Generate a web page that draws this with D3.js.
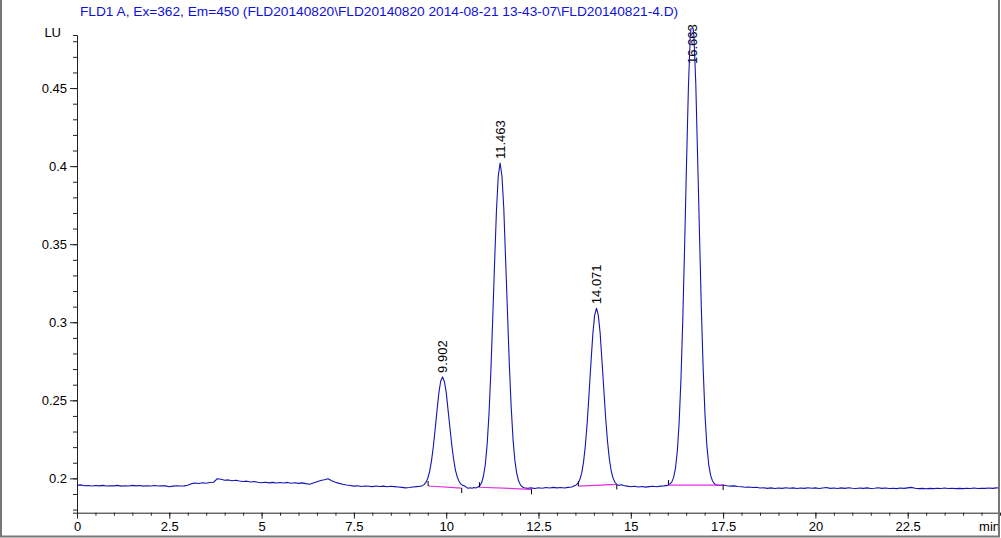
<!DOCTYPE html>
<html>
<head>
<meta charset="utf-8">
<script src="https://cdn.jsdelivr.net/npm/d3@7"></script>
<style>
  html, body { margin: 0; padding: 0; background: #fff; }
  svg { display: block; }
  text { font-family: "Liberation Sans", Arial, sans-serif; }
</style>
</head>
<body>
<svg id="chart" width="1001" height="538"></svg>
<script>
// ---------------- DATA ----------------
const titleText = "FLD1 A, Ex=362, Em=450 (FLD20140820\\FLD20140820 2014-08-21 13-43-07\\FLD20140821-4.D)";
const yUnit = "LU";
const xUnit = "min";

// x ticks (minutes)
const xMajorTicks = [0, 2.5, 5, 7.5, 10, 12.5, 15, 17.5, 20, 22.5];
const xTickLabels = ["0", "2.5", "5", "7.5", "10", "12.5", "15", "17.5", "20", "22.5"];
// y ticks (LU)
const yMajorTicks = [0.2, 0.25, 0.3, 0.35, 0.4, 0.45];
const yTickLabels = ["0.2", "0.25", "0.3", "0.35", "0.4", "0.45"];

// chromatogram trace: [time (min), signal (LU)]
const trace = [
 [0.0,0.1955],[0.1,0.1958],[0.2,0.1953],[0.3,0.1954],[0.4,0.1951],[0.5,0.1954],[0.6,0.1952],[0.7,0.1955],[0.8,0.1951],[0.9,0.1953],
 [1.0,0.1952],[1.1,0.1955],[1.2,0.1950],[1.3,0.1953],[1.4,0.1951],[1.5,0.1955],[1.6,0.1952],[1.7,0.1954],[1.8,0.1950],[1.9,0.1953],
 [2.0,0.1951],[2.1,0.1954],[2.2,0.1951],[2.3,0.1953],[2.4,0.1952],[2.5,0.1946],[2.6,0.1950],[2.7,0.1953],[2.8,0.1951],[2.9,0.1952],
 [3.0,0.1956],[3.1,0.1966],[3.2,0.1970],[3.3,0.1967],[3.4,0.1972],[3.5,0.1969],[3.6,0.1973],[3.7,0.1975],[3.8,0.1998],[3.9,0.1994],
 [4.0,0.1988],[4.1,0.1990],[4.2,0.1985],[4.3,0.1988],[4.4,0.1983],[4.5,0.1980],[4.6,0.1982],[4.7,0.1977],[4.8,0.1980],[4.9,0.1975],
 [5.0,0.1972],[5.1,0.1975],[5.2,0.1971],[5.3,0.1974],[5.4,0.1970],[5.5,0.1973],[5.6,0.1970],[5.7,0.1974],[5.8,0.1969],[5.9,0.1972],
 [6.0,0.1968],[6.1,0.1971],[6.2,0.1966],[6.3,0.1962],[6.4,0.1970],[6.5,0.1978],[6.6,0.1986],[6.7,0.1991],[6.8,0.1997],[6.9,0.1985],
 [7.0,0.1975],[7.1,0.1968],[7.2,0.1962],[7.3,0.1957],[7.4,0.1954],[7.5,0.1950],[7.6,0.1953],[7.7,0.1948],[7.8,0.1951],[7.9,0.1949],
 [8.0,0.1947],[8.1,0.1951],[8.2,0.1948],[8.3,0.1950],[8.4,0.1946],[8.5,0.1949],[8.6,0.1947],[8.7,0.1945],[8.8,0.1942],[8.9,0.1939],
 [9.0,0.1941],[9.1,0.1945],[9.2,0.1947],[9.25,0.1948],
 // peak 1 (9.902)
 [9.30,0.1950],[9.35,0.1953],[9.40,0.1960],[9.45,0.1974],[9.50,0.1999],[9.55,0.2043],[9.60,0.2109],[9.65,0.2201],[9.70,0.2313],
 [9.75,0.2432],[9.80,0.2545],[9.85,0.2622],[9.90,0.2650],[9.95,0.2622],[10.00,0.2552],[10.05,0.2439],[10.10,0.2327],[10.15,0.2215],
 [10.20,0.2124],[10.25,0.2053],[10.30,0.2008],[10.35,0.1980],[10.40,0.1963],[10.45,0.1955],[10.50,0.1951],
 [10.55,0.1942],[10.60,0.1936],[10.65,0.1940],[10.70,0.1937],[10.75,0.1941],[10.80,0.1938],
 // peak 2 (11.463)
 [10.86,0.1944],[10.91,0.1953],[10.96,0.1973],[11.01,0.2015],[11.06,0.2090],[11.11,0.2219],[11.16,0.2417],[11.21,0.2688],[11.26,0.3021],
 [11.31,0.3375],[11.36,0.3708],[11.41,0.3937],[11.46,0.4020],[11.51,0.3937],[11.56,0.3729],[11.61,0.3395],[11.66,0.3062],[11.71,0.2729],
 [11.76,0.2459],[11.81,0.2250],[11.86,0.2115],[11.91,0.2032],[11.96,0.1984],[12.01,0.1959],[12.06,0.1946],[12.11,0.1940],
 [12.2,0.1936],[12.3,0.1939],[12.4,0.1935],[12.5,0.1940],[12.6,0.1937],[12.7,0.1941],[12.8,0.1938],[12.9,0.1942],[13.0,0.1939],
 [13.1,0.1941],[13.2,0.1938],[13.3,0.1942],[13.4,0.1945],
 // peak 3 (14.071)
 [13.47,0.1953],[13.52,0.1958],[13.57,0.1969],[13.62,0.1992],[13.67,0.2033],[13.72,0.2104],[13.77,0.2212],[13.82,0.2360],[13.87,0.2543],
 [13.92,0.2737],[13.97,0.2919],[14.02,0.3044],[14.07,0.3090],[14.12,0.3044],[14.17,0.2930],[14.22,0.2748],[14.27,0.2566],[14.32,0.2383],
 [14.37,0.2235],[14.42,0.2121],[14.47,0.2047],[14.52,0.2001],[14.57,0.1975],[14.62,0.1961],[14.67,0.1955],
 [14.75,0.1959],[14.8,0.1954],[14.9,0.1950],[15.0,0.1946],[15.1,0.1949],[15.2,0.1945],[15.3,0.1948],[15.4,0.1944],[15.5,0.1947],
 [15.6,0.1949],[15.7,0.1946],[15.8,0.1950],[15.9,0.1952],[16.0,0.1955],
 // peak 4 (16.663) - apex runs off the top of the plot
 [16.06,0.1964],[16.11,0.1976],[16.16,0.2006],[16.21,0.2066],[16.26,0.2174],[16.31,0.2359],[16.36,0.2644],[16.41,0.3033],[16.46,0.3512],
 [16.51,0.4021],[16.56,0.4501],[16.61,0.4830],[16.66,0.4950],[16.71,0.4830],[16.76,0.4531],[16.81,0.4052],[16.86,0.3573],[16.91,0.3094],
 [16.96,0.2703],[17.01,0.2405],[17.06,0.2210],[17.11,0.2090],[17.16,0.2021],[17.21,0.1985],[17.26,0.1967],[17.31,0.1958],
 [17.4,0.1955],[17.5,0.1957],[17.6,0.1953],[17.7,0.1950],[17.8,0.1952],[17.9,0.1948],[18.0,0.1946],[18.1,0.1943],[18.2,0.1945],
 [18.3,0.1941],[18.4,0.1943],[18.5,0.1938],[18.6,0.1940],[18.7,0.1936],[18.8,0.1939],[18.9,0.1935],[19.0,0.1938],[19.1,0.1936],
 [19.2,0.1940],[19.3,0.1937],[19.4,0.1939],[19.5,0.1935],[19.6,0.1938],[19.7,0.1936],[19.8,0.1940],[19.9,0.1937],[20.0,0.1939],
 [20.1,0.1935],[20.2,0.1938],[20.3,0.1941],[20.4,0.1936],[20.5,0.1938],[20.6,0.1935],[20.7,0.1939],[20.8,0.1936],[20.9,0.1940],
 [21.0,0.1937],[21.1,0.1935],[21.2,0.1938],[21.3,0.1936],[21.4,0.1939],[21.5,0.1935],[21.6,0.1937],[21.7,0.1940],[21.8,0.1936],
 [21.9,0.1938],[22.0,0.1935],[22.1,0.1937],[22.2,0.1934],[22.3,0.1938],[22.4,0.1936],[22.5,0.1939],[22.6,0.1942],[22.7,0.1937],
 [22.8,0.1934],[22.9,0.1936],[23.0,0.1933],[23.1,0.1936],[23.2,0.1934],[23.3,0.1937],[23.4,0.1935],[23.5,0.1938],[23.6,0.1935],
 [23.7,0.1937],[23.8,0.1934],[23.9,0.1936],[24.0,0.1934],[24.1,0.1937],[24.2,0.1935],[24.3,0.1938],[24.4,0.1935],[24.5,0.1937],
 [24.6,0.1936],[24.7,0.1938],[24.8,0.1936],[24.9,0.1939],[25.0,0.1938]
];

// peak annotations
const peakTimes  = [9.902, 11.463, 14.071, 16.663];
const peakApex   = [0.265, 0.402, 0.309, 0.495];
const peakLabels = ["9.902", "11.463", "14.071", "16.663"];

// integration baselines: [startTime, startLU, endTime, endLU]
const integrationBaselines = [
  [9.51, 0.1951, 10.42, 0.1938],
  [10.90, 0.1943, 12.31, 0.1930],
  [13.58, 0.1950, 14.62, 0.1961],
  [16.02, 0.1957, 17.50, 0.1957]
];

// ---------------- DRAW ----------------
const svg = d3.select("#chart");
const W = 1001, H = 538;
const xDomain = [0, 25];
const yDomain = [0.178, 0.484];
const x = d3.scaleLinear().domain(xDomain).range([77, 1000]);
const y = d3.scaleLinear().domain(yDomain).range([512.7, 35]);

const axisColor = "#222";
const traceColor = "#1414b4";
const titleColor = "#1010d8";
const baseColor = "#e030e0";
const tickFont = 13;

// clip for trace (plot area, a little headroom above the y axis)
svg.append("defs").append("clipPath").attr("id", "plotclip")
  .append("rect").attr("x", x(0)).attr("y", 28)
  .attr("width", x(25) - x(0)).attr("height", y(yDomain[0]) - 28);

// title
svg.append("text")
  .attr("x", 80).attr("y", 16)
  .attr("font-size", 13.7)
  .attr("fill", titleColor)
  .text(titleText);

// y axis
const yMinor = d3.range(0.18, 0.4801, 0.01).map(v => +v.toFixed(2));
const gyMinor = svg.append("g").attr("transform", "translate(77,0)")
  .call(d3.axisLeft(y).tickValues(yMinor).tickSize(4).tickSizeOuter(4).tickFormat(""));
const gy = svg.append("g").attr("transform", "translate(77,0)")
  .call(d3.axisLeft(y).tickValues(yMajorTicks).tickSize(7).tickSizeOuter(0)
        .tickFormat((d, i) => yTickLabels[i]));
gy.select(".domain").remove();
[gy, gyMinor].forEach(g => {
  g.selectAll("line").attr("stroke", axisColor);
  g.selectAll("path").attr("stroke", axisColor);
});
gy.selectAll("text").attr("font-size", tickFont).attr("fill", "#000").attr("x", -10)
  .attr("font-family", "'Liberation Sans', Arial, sans-serif");

svg.append("text").attr("x", 61).attr("y", 37).attr("text-anchor", "end")
  .attr("font-size", tickFont).attr("fill", "#000").text(yUnit);

// x axis
const xMinor = d3.range(0, 25.01, 0.5);
const gxMinor = svg.append("g").attr("transform", `translate(0,${y(yDomain[0])})`)
  .call(d3.axisBottom(x).tickValues(xMinor).tickSize(3).tickSizeOuter(0).tickFormat(""));
const gx = svg.append("g").attr("transform", `translate(0,${y(yDomain[0])})`)
  .call(d3.axisBottom(x).tickValues(xMajorTicks).tickSize(6).tickSizeOuter(0)
        .tickFormat((d, i) => xTickLabels[i]));
gx.select(".domain").remove();
[gx, gxMinor].forEach(g => {
  g.selectAll("line").attr("stroke", axisColor);
  g.selectAll("path").attr("stroke", axisColor);
});
gx.selectAll("text").attr("font-size", tickFont).attr("fill", "#000").attr("y", 9)
  .attr("font-family", "'Liberation Sans', Arial, sans-serif");

svg.append("text").attr("x", x(25)).attr("y", y(yDomain[0]) + 9).attr("dy", "0.71em")
  .attr("text-anchor", "end").attr("font-size", tickFont).attr("fill", "#000").text(xUnit);

// peak labels (kept inside the plot: pushed down when the apex is off-scale)
peakTimes.forEach((t, i) => {
  const ly = Math.max(y(peakApex[i]) - 4, 64);
  svg.append("text")
    .attr("transform", `translate(${x(t) + 4.7},${ly}) rotate(-90)`)
    .attr("font-size", 13).attr("fill", "#000")
    .text(peakLabels[i]);
});

// integration baselines
const gb = svg.append("g");
integrationBaselines.forEach(b => {
  gb.append("line")
    .attr("x1", x(b[0])).attr("y1", y(b[1]))
    .attr("x2", x(b[2])).attr("y2", y(b[3]))
    .attr("stroke", baseColor).attr("stroke-width", 1.2);
});

// trace
const line = d3.line().x(d => x(d[0])).y(d => y(d[1]));
svg.append("path").datum(trace)
  .attr("d", line)
  .attr("clip-path", "url(#plotclip)")
  .attr("fill", "none")
  .attr("stroke", traceColor)
  .attr("stroke-width", 1.1)
  .attr("stroke-linejoin", "round");

// integration tick marks (start up, end down)
integrationBaselines.forEach(b => {
  gb.append("line")
    .attr("x1", x(b[0])).attr("x2", x(b[0]))
    .attr("y1", y(b[1])).attr("y2", y(b[1]) - 5)
    .attr("stroke", "#000").attr("stroke-width", 1);
  gb.append("line")
    .attr("x1", x(b[2])).attr("x2", x(b[2]))
    .attr("y1", y(b[3])).attr("y2", y(b[3]) + 5)
    .attr("stroke", "#000").attr("stroke-width", 1);
});
gb.raise();

// outer frame
svg.append("path")
  .attr("d", `M1,0 V${H - 1.5} H${W - 2} V0`)
  .attr("fill", "none").attr("stroke", "#777").attr("stroke-width", 2);
</script>
</body>
</html>
